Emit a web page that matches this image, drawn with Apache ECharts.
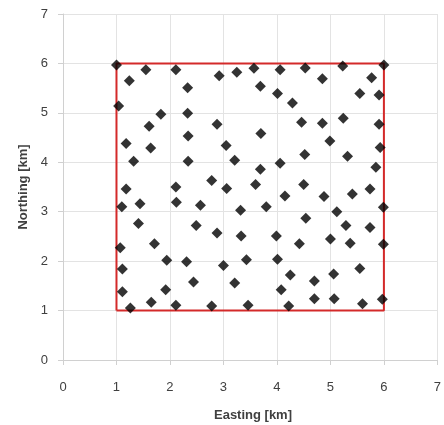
<!DOCTYPE html>
<html>
<head>
<meta charset="utf-8">
<script src="https://cdn.jsdelivr.net/npm/echarts@6/dist/echarts.min.js"></script>
<style>
  html, body { margin: 0; padding: 0; background: #fff; }
  #chart { width: 444px; height: 425px; }
</style>
</head>
<body>
<div id="chart"></div>
<script>
// sample points (easting, northing) in km
var easting = [1.0, 1.24, 1.55, 2.11, 2.33, 2.92, 3.25, 3.57, 3.69, 4.06,
    4.01, 4.53, 4.29, 4.85, 5.23, 5.77, 6.0, 5.55, 5.91, 1.04,
    1.83, 2.33, 1.61, 2.88, 3.70, 4.46, 4.85, 5.24, 5.91, 1.18,
    1.64, 2.34, 3.05, 4.99, 4.52, 5.93, 1.32, 2.34, 3.21, 4.06,
    3.69, 5.32, 5.85, 2.78, 1.18, 2.11, 3.06, 3.60, 4.15, 4.50,
    4.88, 5.41, 5.74, 1.10, 1.44, 2.12, 2.57, 3.80, 3.32, 5.12,
    5.99, 1.41, 2.49, 4.54, 5.29, 5.74, 2.88, 3.33, 3.99, 5.00,
    5.37, 5.99, 4.42, 1.71, 1.07, 1.94, 2.31, 3.00, 3.43, 4.01,
    1.11, 5.55, 4.25, 5.06, 4.70, 2.44, 3.21, 1.11, 1.92, 4.08,
    1.65, 2.11, 2.78, 3.46, 4.22, 1.26, 4.70, 5.07, 5.60, 5.97];
var northing = [5.97, 5.65, 5.87, 5.87, 5.51, 5.75, 5.82, 5.90, 5.54, 5.87,
    5.39, 5.91, 5.20, 5.69, 5.95, 5.71, 5.97, 5.39, 5.36, 5.14,
    4.97, 4.99, 4.73, 4.77, 4.58, 4.81, 4.79, 4.89, 4.77, 4.38,
    4.29, 4.53, 4.34, 4.43, 4.16, 4.30, 4.02, 4.02, 4.04, 3.98,
    3.86, 4.12, 3.90, 3.63, 3.46, 3.50, 3.47, 3.55, 3.32, 3.55,
    3.31, 3.36, 3.46, 3.10, 3.16, 3.19, 3.13, 3.10, 3.03, 3.00,
    3.09, 2.76, 2.72, 2.87, 2.72, 2.68, 2.57, 2.51, 2.51, 2.45,
    2.36, 2.34, 2.35, 2.35, 2.27, 2.02, 1.99, 1.91, 2.03, 2.04,
    1.84, 1.85, 1.72, 1.74, 1.60, 1.58, 1.56, 1.38, 1.42, 1.42,
    1.17, 1.11, 1.09, 1.11, 1.09, 1.05, 1.24, 1.24, 1.14, 1.23];
// study area boundary
var boundary = [[1, 1], [1, 6], [6, 6], [6, 1], [1, 1]];
var axisTicks = [0, 7, 1]; // min, max, interval
var xName = 'Easting [km]';
var yName = 'Northing [km]';

var points = easting.map(function (e, i) { return [e, northing[i]]; });

var myChart = echarts.init(document.getElementById('chart'));

var font = 'Liberation Sans, Arial, sans-serif';

function axis(labelMargin) {
    return {
        type: 'value',
        min: axisTicks[0], max: axisTicks[1], interval: axisTicks[2],
        axisLine: { show: true, lineStyle: { color: '#d0d0d0' } },
        axisTick: { show: true, length: 5, lineStyle: { color: '#d0d0d0' } },
        axisLabel: { margin: labelMargin, color: '#404040', fontSize: 13, fontFamily: font },
        splitLine: { show: true, lineStyle: { color: '#e3e3e3' } }
    };
}

// axis titles drawn as text so they do not push the grid around
var nameFont = 'bold 13px ' + font;

myChart.setOption({
    backgroundColor: '#fff',
    animation: false,
    grid: { left: 63, right: 1, top: 14, bottom: 65 },
    xAxis: axis(21),
    yAxis: axis(15),
    graphic: [{
        type: 'text',
        x: 253, y: 415,
        style: { text: xName, font: nameFont, fill: '#404040', align: 'center', verticalAlign: 'middle' }
    }, {
        type: 'text',
        x: 23, y: 187,
        rotation: Math.PI / 2,
        style: { text: yName, font: nameFont, fill: '#404040', align: 'center', verticalAlign: 'middle' }
    }],
    series: [{
        type: 'line',
        data: boundary,
        symbol: 'none',
        lineStyle: { color: '#d42a2a', width: 2 },
        z: 2
    }, {
        type: 'scatter',
        data: points,
        symbol: 'diamond',
        symbolSize: 11,
        itemStyle: { color: '#000' },
        z: 3
    }]
});
</script>
</body>
</html>
